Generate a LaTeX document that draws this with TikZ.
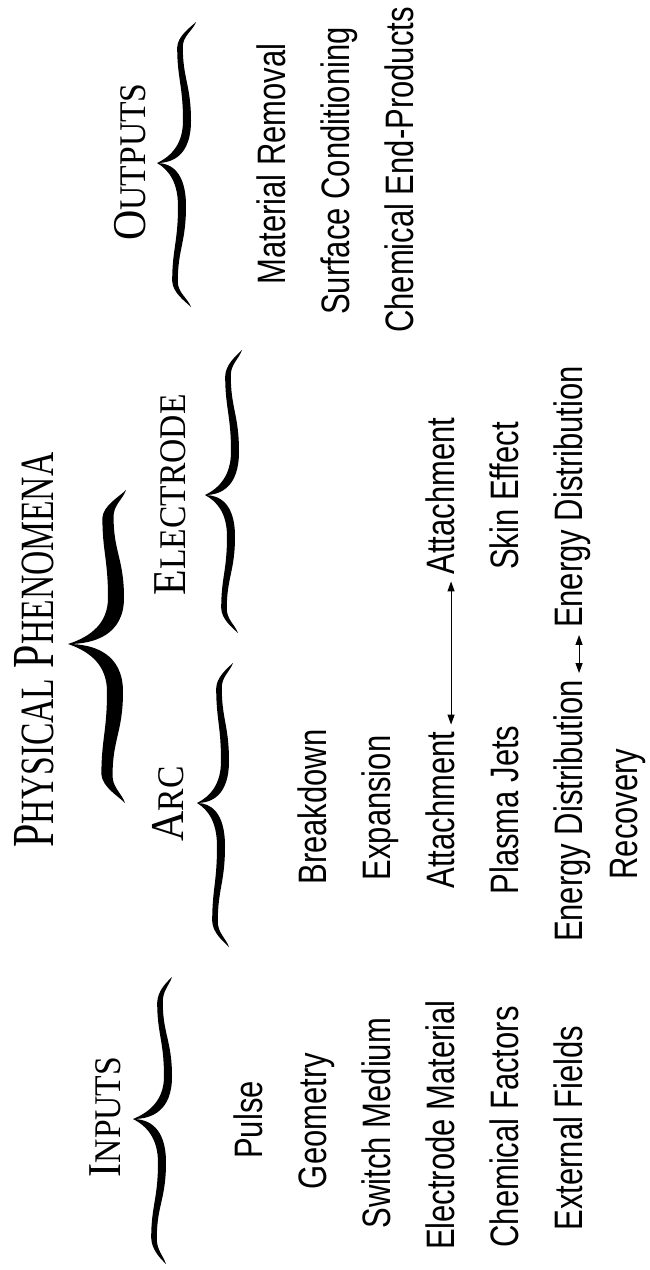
\documentclass[tikz,border=0pt]{standalone}
\usepackage{fontspec}
\setmainfont{Liberation Serif}
\newfontfamily\sansf{Liberation Sans}
\usetikzlibrary{arrows.meta}
\newcommand\itemfont{\sansf\fontsize{31}{31}\selectfont}
\newcommand\headfont{\fontsize{42}{42}\selectfont}
\newcommand\scx[1]{{\fontsize{33.6}{33.6}\selectfont #1}}
% half of a curly brace: #1 sign, #2 length, #3 depth, #4 bow, #5 curl, #6 width
\newcommand{\halfb}[6]{%
\fill[black] (0,0)
 .. controls ({0.55*#3},0) and ({#3+#6/2},{#1*0.06*#2}) .. ({#3+#6/2},{#1*0.3*#2})
 .. controls ({#3+#6/2},{#1*0.55*#2}) and ({#3-#4+0.35*#6},{#1*0.6*#2}) .. ({#3-#4+0.35*#6},{#1*0.82*#2})
 .. controls ({#3-#4+0.3*#6},{#1*0.9*#2}) and ({#3+#5-3},{#1*0.94*#2}) .. ({#3+#5},{#1*#2})
 .. controls ({#3+#5-6},{#1*0.96*#2}) and ({#3-#4-0.3*#6},{#1*0.9*#2}) .. ({#3-#4-0.35*#6},{#1*0.82*#2})
 .. controls ({#3-#4-0.35*#6},{#1*0.6*#2}) and ({#3-#6/2},{#1*0.55*#2}) .. ({#3-#6/2},{#1*0.3*#2})
 .. controls ({#3-#6/2},{#1*0.14*#2}) and ({0.5*#3},{#1*0.05*#2}) .. (0,0) -- cycle;}
% brace: tip x, tip y, upper length, upper depth, bow, curl, width, lower length, lower depth
\newcommand{\cbrace}[9]{%
\begin{scope}[shift={(#1,#2)}]
\halfb{-1}{#3}{#4}{#5}{#6}{#7}
\halfb{1}{#8}{#9}{#5}{#6}{#7}
\end{scope}}
\tikzset{
 item/.style={font=\itemfont, rotate=90, yscale=1.28, anchor=base, inner sep=0pt, outer sep=0pt},
 head/.style={font=\headfont, rotate=90, yscale=1.12, anchor=base, inner sep=0pt, outer sep=0pt},
 bighead/.style={font=\headfont, rotate=90, yscale=1.42, anchor=base, inner sep=0pt, outer sep=0pt},
 link/.style={line width=1.1pt, {Triangle[length=10pt,width=7pt]}-{Triangle[length=10pt,width=7pt]}, shorten <=7pt, shorten >=7pt}
}
\begin{document}
\begin{tikzpicture}[x=1pt,y=-1pt]
\fill[white] (0,0) rectangle (650,1270);
\useasboundingbox (0,0) rectangle (650,1270);

% headings
\node[head] (hin) at (120,1117) {I\scx{NPUTS}};
\node[bighead] (hph) at (53,650) {P\scx{HYSICAL} P\scx{HENOMENA}};
\node[head] (harc) at (183,804) {A\scx{RC}};
\node[head] (hel) at (185,495) {E\scx{LECTRODE}};
\node[head] (hout) at (145,162) {O\scx{UTPUTS}};

% braces
\cbrace{133}{1119}{142}{35}{8}{4}{8}{145}{29}
\cbrace{68}{644}{154}{48}{8}{10}{16}{159}{47}
\cbrace{197}{803}{140}{28}{6}{8}{8}{144}{24}
\cbrace{205}{495}{145}{30}{7}{7}{8}{138}{26}
\cbrace{157}{163}{141}{30}{7}{9}{8}{144}{25}

% inputs
\node[item] (i1) at (262,1120) {Pulse};
\node[item] (i2) at (326,1121) {Geometry};
\node[item] (i3) at (390,1123) {Switch Medium};
\node[item] (i4) at (454,1125) {Electrode Material};
\node[item] (i5) at (518,1127) {Chemical Factors};
\node[item] (i6) at (582,1128) {External Fields};

% arc
\node[item] (a1) at (326,807) {Breakdown};
\node[item] (a2) at (390,808) {Expansion};
\node[item] (a3) at (454,810) {Attachment};
\node[item] (a4) at (518,810) {Plasma Jets};
\node[item] (a5) at (582,811) {Energy Distribution};
\node[item] (a6) at (637,814) {Recovery};

% electrode
\node[item] (e1) at (454,496) {Attachment};
\node[item] (e2) at (518,496) {Skin Effect};
\node[item] (e3) at (582,497) {Energy Distribution};

% outputs
\node[item] (o1) at (285,164) {Material Removal};
\node[item] (o2) at (349,171) {Surface Conditioning};
\node[item] (o3) at (413,170) {Chemical End-Products};

% links
\draw[link] (a3.mid east) -- (e1.mid west);
\draw[link] (a5.mid east) -- (e3.mid west);
\end{tikzpicture}
\end{document}
